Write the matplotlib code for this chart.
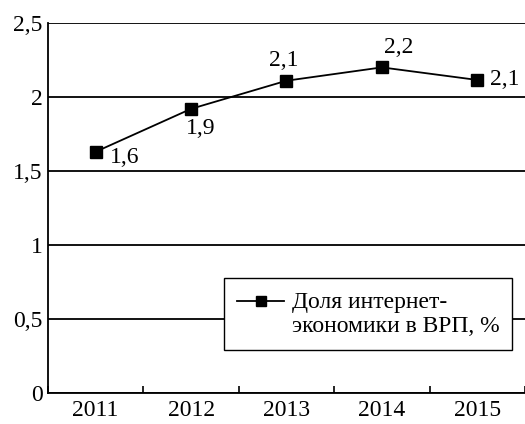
import matplotlib.pyplot as plt

# data
years = ["2011", "2012", "2013", "2014", "2015"]
share = [1.63, 1.92, 2.11, 2.2, 2.115]
labels = ["1,6", "1,9", "2,1", "2,2", "2,1"]
yticks = [0, 0.5, 1, 1.5, 2, 2.5]
ytick_labels = ["0", "0,5", "1", "1,5", "2", "2,5"]
series_name = "Доля интернет-\nэкономики в ВРП, %"

plt.rcParams['font.family'] = ['Liberation Serif', 'DejaVu Serif']
FS = 17

fig = plt.figure(figsize=(5.25, 4.24), dpi=100)
ax = fig.add_axes([0.0914, 0.0731, 0.9086, 0.8727])

x = list(range(len(years)))
ax.plot(x, share, color='black', linewidth=1.3, marker='s', markersize=8.5,
        label=series_name, zorder=3)

# value labels (offsets in points)
offsets = [(21, -4), (7, -14.5), (-2, 14.5), (12, 14), (20, 0)]
for xi, yi, lab, off in zip(x, share, labels, offsets):
    ax.annotate(lab, (xi, yi), xytext=off, textcoords='offset points',
                ha='center', va='center', fontsize=FS)

ax.set_xlim(-0.5, len(years) - 0.5)
ax.set_ylim(0, 2.5)
ax.set_yticks(yticks)
ax.set_yticklabels(ytick_labels, fontsize=FS)
ax.tick_params(axis='y', length=0, pad=4)

# categories between tick marks
ax.set_xticks([i + 0.5 for i in range(-1, len(years))])
ax.set_xticklabels([])
ax.set_xticks(x, minor=True)
ax.set_xticklabels(years, minor=True, fontsize=FS)
ax.tick_params(axis='x', which='major', direction='in', length=5, width=1.2)
ax.tick_params(axis='x', which='minor', length=0, pad=5)

ax.yaxis.grid(True, color='black', linewidth=1.3)
ax.set_axisbelow(True)
for side in ['top', 'right']:
    ax.spines[side].set_visible(False)
for side in ['left', 'bottom']:
    ax.spines[side].set_linewidth(1.3)

leg = ax.legend(loc='lower left', bbox_to_anchor=(0.369, 0.116, 0.604, 0.195),
                mode='expand', borderaxespad=0, fontsize=FS, fancybox=False,
                framealpha=1, edgecolor='black', handlelength=2.0,
                handletextpad=0.3, borderpad=0.56, labelspacing=0.2)
leg.get_frame().set_linewidth(1.0)
handle = leg.legend_handles[0]
handle.set_markersize(7)
# put the legend symbol level with the first text line
handle.set_ydata([v + 9.5 for v in handle.get_ydata()])

fig.savefig("out.png", dpi=100)
